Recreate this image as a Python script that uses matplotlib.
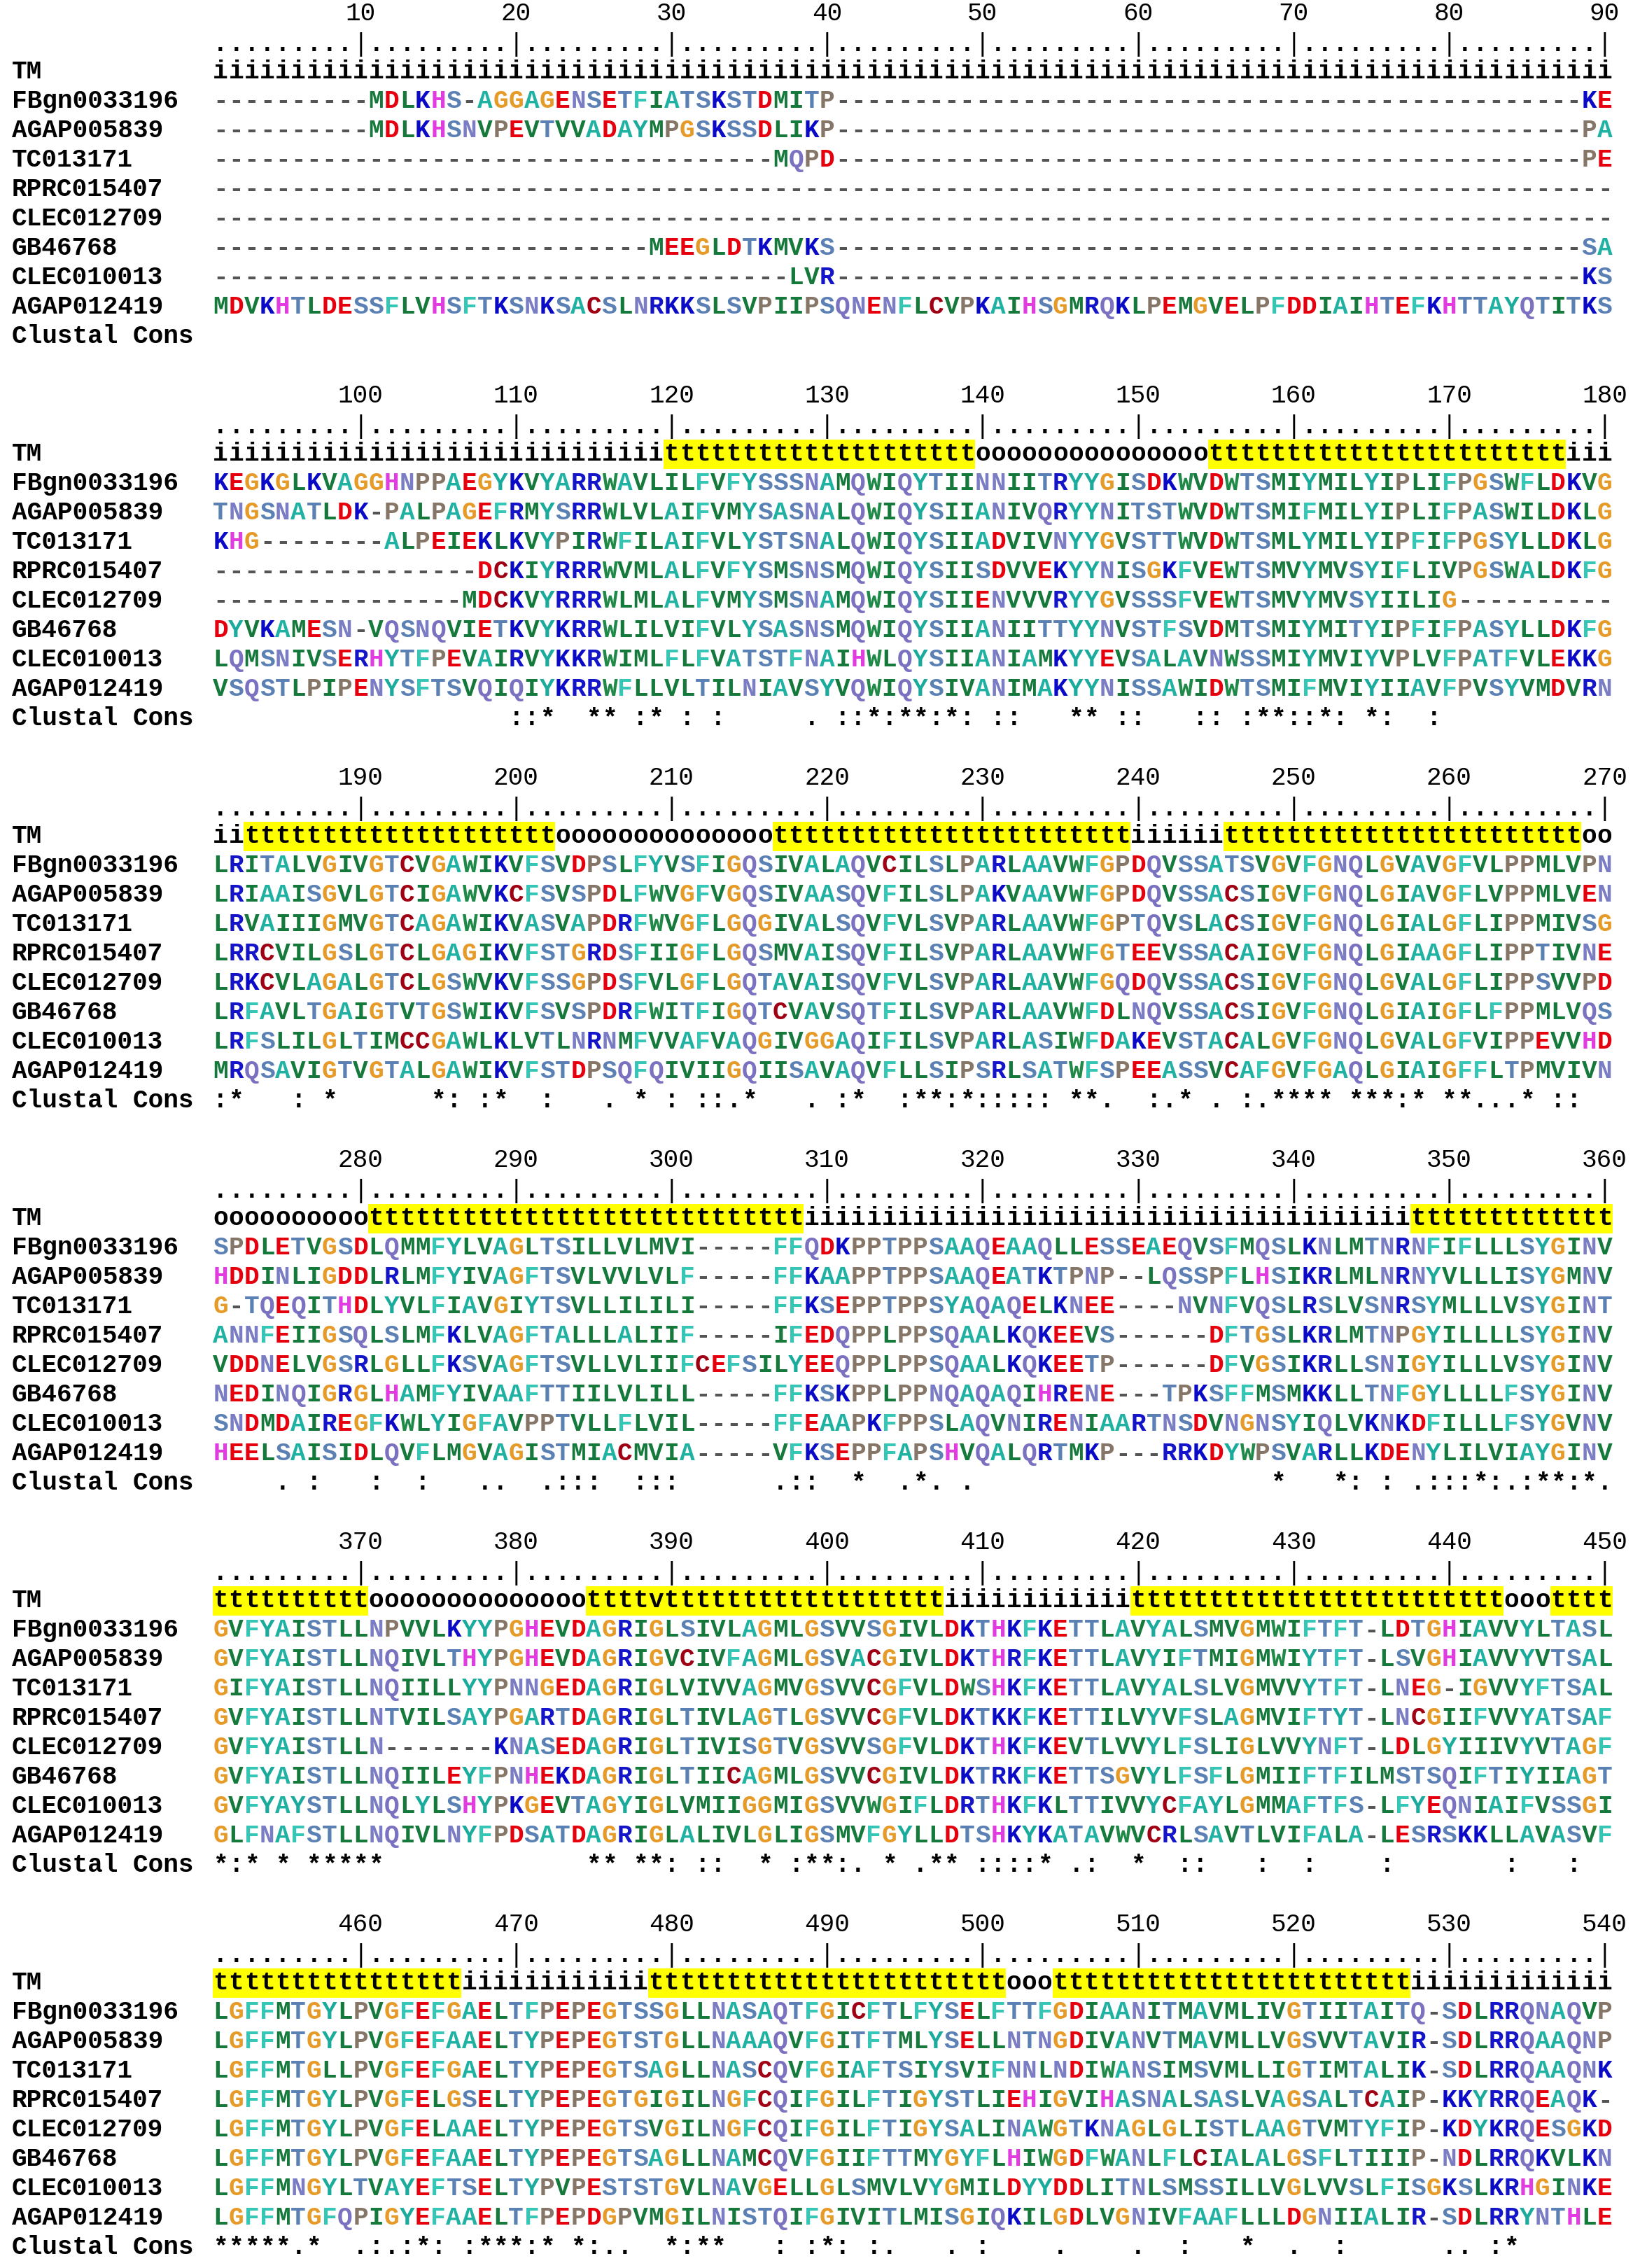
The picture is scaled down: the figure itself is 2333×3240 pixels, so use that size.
import matplotlib
matplotlib.use("Agg")
import matplotlib.pyplot as plt
from matplotlib.patches import Rectangle

# ---------------- data ----------------
BLOCK_STARTS = [1, 91, 181, 271, 361, 451]
BLOCK_LEN = 90

NAMES = ["FBgn0033196", "AGAP005839", "TC013171", "RPRC015407",
         "CLEC012709", "GB46768", "CLEC010013", "AGAP012419"]

TM = [
    "i" * 90,
    "i" * 29 + "t" * 20 + "o" * 15 + "t" * 23 + "i" * 3,
    "ii" + "t" * 20 + "o" * 14 + "t" * 23 + "i" * 6 + "t" * 23 + "oo",
    "o" * 10 + "t" * 28 + "i" * 39 + "t" * 13,
    "t" * 10 + "o" * 14 + "ttttv" + "t" * 18 + "i" * 12 + "t" * 24 + "ooo" + "tttt",
    "t" * 16 + "i" * 12 + "t" * 23 + "ooo" + "t" * 23 + "i" * 13,
]

FBGN0033196 = [
    "-" * 10 + "MDLKHS-AGGAGENSETFIATSKSTDMITP" + "-" * 48 + "KE",
    "KEGKGLKVAGGHNPPAEGYKVYARRWAVLILFVFYSSSNAMQWIQYTIINNIITRYYGISDKWVDWTSMIYMILYIPLIFPGSWFLDKVG",
    "LRITALVGIVGTCVGAWIKVFSVDPSLFYVSFIGQSIVALAQVCILSLPARLAAVWFGPDQVSSATSVGVFGNQLGVAVGFVLPPMLVPN",
    "SPDLETVGSDLQMMFYLVAGLTSILLVLMVI-----FFQDKPPTPPSAAQEAAQLLESSEAEQVSFMQSLKNLMTNRNFIFLLLSYGINV",
    "GVFYAISTLLNPVVLKYYPGHEVDAGRIGLSIVLAGMLGSVVSGIVLDKTHKFKETTLAVYALSMVGMWIFTFT-LDTGHIAVVYLTASL",
    "LGFFMTGYLPVGFEFGAELTFPEPEGTSSGLLNASAQTFGICFTLFYSELFTTFGDIAANITMAVMLIVGTIITAITQ-SDLRRQNAQVP",
]
AGAP005839 = [
    "-" * 10 + "MDLKHSNVPEVTVVADAYMPGSKSSDLIKP" + "-" * 48 + "PA",
    "TNGSNATLDK-PALPAGEFRMYSRRWLVLAIFVMYSASNALQWIQYSIIANIVQRYYNITSTWVDWTSMIFMILYIPLIFPASWILDKLG",
    "LRIAAISGVLGTCIGAWVKCFSVSPDLFWVGFVGQSIVAASQVFILSLPAKVAAVWFGPDQVSSACSIGVFGNQLGIAVGFLVPPMLVEN",
    "HDDINLIGDDLRLMFYIVAGFTSVLVVLVLF-----FFKAAPPTPPSAAQEATKTPNP--LQSSPFLHSIKRLMLNRNYVLLLISYGMNV",
    "GVFYAISTLLNQIVLTHYPGHEVDAGRIGVCIVFAGMLGSVACGIVLDKTHRFKETTLAVYIFTMIGMWIYTFT-LSVGHIAVVYVTSAL",
    "LGFFMTGYLPVGFEFAAELTYPEPEGTSTGLLNAAAQVFGITFTMLYSELLNTNGDIVANVTMAVMLLVGSVVTAVIR-SDLRRQAAQNP",
]
TC013171 = [
    "-" * 36 + "MQPD" + "-" * 48 + "PE",
    "KHG--------ALPEIEKLKVYPIRWFILAIFVLYSTSNALQWIQYSIIADVIVNYYGVSTTWVDWTSMLYMILYIPFIFPGSYLLDKLG",
    "LRVAIIIGMVGTCAGAWIKVASVAPDRFWVGFLGQGIVALSQVFVLSVPARLAAVWFGPTQVSLACSIGVFGNQLGIALGFLIPPMIVSG",
    "G-TQEQITHDLYVLFIAVGIYTSVLLILILI-----FFKSEPPTPPSYAQAQELKNEE----NVNFVQSLRSLVSNRSYMLLLVSYGINT",
    "GIFYAISTLLNQIILLYYPNNGEDAGRIGLVIVVAGMVGSVVCGFVLDWSHKFKETTLAVYALSLVGMVVYTFT-LNEG-IGVVYFTSAL",
    "LGFFMTGLLPVGFEFGAELTYPEPEGTSAGLLNASCQVFGIAFTSIYSVIFNNLNDIWANSIMSVMLLIGTIMTALIK-SDLRRQAAQNK",
]
RPRC015407 = [
    "-" * 90,
    "-----------------DCKIYRRRWVMLALFVFYSMSNSMQWIQYSIISDVVEKYYNISGKFVEWTSMVYMVSYIFLIVPGSWALDKFG",
    "LRRCVILGSLGTCLGAGIKVFSTGRDSFIIGFLGQSMVAISQVFILSVPARLAAVWFGTEEVSSACAIGVFGNQLGIAAGFLIPPTIVNE",
    "ANNFEIIGSQLSLMFKLVAGFTALLLALIIF-----IFEDQPPLPPSQAALKQKEEVS------DFTGSLKRLMTNPGYILLLLSYGINV",
    "GVFYAISTLLNTVILSAYPGARTDAGRIGLTIVLAGTLGSVVCGFVLDKTKKFKETTILVYVFSLAGMVIFTYT-LNCGIIFVVYATSAF",
    "LGFFMTGYLPVGFELGSELTYPEPEGTGIGILNGFCQIFGILFTIGYSTLIEHIGVIHASNALSASLVAGSALTCAIP-KKYRRQEAQK-",
]
CLEC012709 = [
    "-" * 90,
    "----------------MDCKVYRRRWLMLALFVMYSMSNAMQWIQYSIIENVVVRYYGVSSSFVEWTSMVYMVSYIILIG----------",
    "LRKCVLAGALGTCLGSWVKVFSSGPDSFVLGFLGQTAVAISQVFVLSVPARLAAVWFGQDQVSSACSIGVFGNQLGVALGFLIPPSVVPD",
    "VDDNELVGSRLGLLFKSVAGFTSVLLVLIIFCEFSILYEEQPPLPPSQAALKQKEETP------DFVGSIKRLLSNIGYILLLVSYGINV",
    "GVFYAISTLLN-------KNASEDAGRIGLTIVISGTVGSVVSGFVLDKTHKFKEVTLVVYLFSLIGLVVYNFT-LDLGYIIIVYVTAGF",
    "LGFFMTGYLPVGFELAAELTYPEPEGTSVGILNGFCQIFGILFTIGYSALINAWGTKNAGLGLISTLAAGTVMTYFIP-KDYKRQESGKD",
]
GB46768 = [
    "-" * 28 + "MEEGLDTKMVKS" + "-" * 48 + "SA",
    "DYVKAMESN-VQSNQVIETKVYKRRWLILVIFVLYSASNSMQWIQYSIIANIITTYYNVSTFSVDMTSMIYMITYIPFIFPASYLLDKFG",
    "LRFAVLTGAIGTVTGSWIKVFSVSPDRFWITFIGQTCVAVSQTFILSVPARLAAVWFDLNQVSSACSIGVFGNQLGIAIGFLFPPMLVQS",
    "NEDINQIGRGLHAMFYIVAAFTTIILVLILL-----FFKSKPPLPPNQAQAQIHRENE---TPKSFFMSMKKLLTNFGYLLLLFSYGINV",
    "GVFYAISTLLNQIILEYFPNHEKDAGRIGLTIICAGMLGSVVCGIVLDKTRKFKETTSGVYLFSFLGMIIFTFILMSTSQIFTIYIIAGT",
    "LGFFMTGYLPVGFEFAAELTYPEPEGTSAGLLNAMCQVFGIIFTTMYGYFLHIWGDFWANLFLCIALALGSFLTIIIP-NDLRRQKVLKN",
]
CLEC010013 = [
    "-" * 37 + "LVR" + "-" * 48 + "KS",
    "LQMSNIVSERHYTFPEVAIRVYKKRWIMLFLFVATSTFNAIHWLQYSIIANIAMKYYEVSALAVNWSSMIYMVIYVPLVFPATFVLEKKG",
    "LRFSLILGLTIMCCGAWLKLVTLNRNMFVVAFVAQGIVGGAQIFILSVPARLASIWFDAKEVSTACALGVFGNQLGVALGFVIPPEVVHD",
    "SNDMDAIREGFKWLYIGFAVPPTVLLFLVIL-----FFEAAPKFPPSLAQVNIRENIAARTNSDVNGNSYIQLVKNKDFILLLFSYGVNV",
    "GVFYAYSTLLNQLYLSHYPKGEVTAGYIGLVMIIGGMIGSVVWGIFLDRTHKFKLTTIVVYCFAYLGMMAFTFS-LFYEQNIAIFVSSGI",
    "LGFFMNGYLTVAYEFTSELTYPVPESTSTGVLNAVGELLGLSMVLVYGMILDYYDDLITNLSMSSILLVGLVVSLFISGKSLKRHGINKE",
]
AGAP012419 = [
    "MDVKHTLDESSFLVHSFTKSNKSACSLNRKKSLSVPIIPSQNENFLCVPKAIHSGMRQKLPEMGVELPFDDIAIHTEFKHTTAYQTITKS",
    "VSQSTLPIPENYSFTSVQIQIYKRRWFLLVLTILNIAVSYVQWIQYSIVANIMAKYYNISSAWIDWTSMIFMVIYIIAVFPVSYVMDVRN",
    "MRQSAVIGTVGTALGAWIKVFSTDPSQFQIVIIGQIISAVAQVFLLSIPSRLSATWFSPEEASSVCAFGVFGAQLGIAIGFFLTPMVIVN",
    "HEELSAISIDLQVFLMGVAGISTMIACMVIA-----VFKSEPPFAPSHVQALQRTMKP---RRKDYWPSVARLLKDENYLILVIAYGINV",
    "GLFNAFSTLLNQIVLNYFPDSATDAGRIGLALIVLGLIGSMVFGYLLDTSHKYKATAVWVCRLSAVTLVIFALA-LESRSKKLLAVASVF",
    "LGFFMTGFQPIGYEFAAELTFPEPDGPVMGILNISTQIFGIVITLMISGIQKILGDLVGNIVFAAFLLLDGNIIALIR-SDLRRYNTHLE",
]

CONS = [
    " " * 90,
    " " * 19 + "::*" + "  " + "**" + " " + ":*" + " " + ":" + " " + ":" + " " * 5 + "." + " "
    + "::*:**:*:" + " " + "::" + " " * 3 + "**" + " " + "::" + " " * 3 + "::" + " "
    + ":**::*:" + " " + "*:" + "  " + ":" + " " * 11,
    ":*" + " " * 3 + ":" + " " + "*" + " " * 6 + "*:" + " " + ":*" + "  " + ":" + " " * 3 + "." + " "
    + "*" + " " + ":" + " " + "::.*" + " " * 3 + "." + " " + ":*" + "  " + ":**:*:::::" + " "
    + "**." + "  " + ":.*" + " " + "." + " " + ":.****" + " " + "***:*" + " " + "**...*" + " "
    + "::" + "  ",
    " " * 4 + "." + " " + ":" + " " * 3 + ":" + "  " + ":" + " " * 3 + ".." + "  " + ".:::" + "  "
    + ":::" + " " * 6 + ".::" + "  " + "*" + "  " + ".*." + " " + "." + " " * 19 + "*" + " " * 3
    + "*:" + " " + ":" + " " + ".:::*:.:**:*.",
    "*:*" + " " + "*" + " " + "*****" + " " * 13 + "**" + " " + "**:" + " " + "::" + "  " + "*" + " "
    + ":**:." + " " + "*" + " " + ".**" + " " + "::::*" + " " + ".:" + "  " + "*" + "  " + "::"
    + " " * 3 + ":" + "  " + ":" + " " * 4 + ":" + " " * 7 + ":" + " " * 3 + ":" + "  ",
    "*****" + ".*" + "  " + ".:.:*:" + " " + ":***:*" + " " + "*:.." + "  " + "*:**" + " " * 3 + ":"
    + " " + ":*:" + " " + ":." + " " * 3 + "." + " " + ":" + " " * 4 + "." + " " * 4 + "." + "  "
    + ":" + " " * 3 + "*" + "  " + "." + "  " + ":" + " " * 6 + ".." + " " + ":*" + " " * 6,
]

SEQS = [FBGN0033196, AGAP005839, TC013171, RPRC015407,
        CLEC012709, GB46768, CLEC010013, AGAP012419]

for s in SEQS + [TM, CONS]:
    for blk in s:
        assert len(blk) == BLOCK_LEN, (len(blk), blk)

AA_COLORS = {
    "A": "#1fb2a2", "F": "#36c6b6", "Y": "#1aab9c",
    "I": "#15793b", "L": "#15793b", "V": "#15793b", "M": "#15793b", "W": "#1f8a48",
    "S": "#5a80b4", "T": "#5a80b4",
    "N": "#7a7cc4", "Q": "#7a72c0",
    "K": "#0a0ac6", "R": "#1414c8",
    "D": "#e6000e", "E": "#e6000e",
    "G": "#e69a28", "H": "#e03ce0", "P": "#857668", "C": "#a00014",
    "-": "#555555",
}

# ---------------- layout ----------------
W_PX, H_PX = 2333, 3240
COL_PX, COL0_PX = 22.22, 315.0
ROW_PX, ROW0_PX = 42.0, 103.0
BLOCK_ROWS = 13
FS = 26
MONO = "Liberation Mono"

plt.rcParams["font.family"] = [MONO, "DejaVu Sans Mono"]

fig = plt.figure(figsize=(W_PX / 100, H_PX / 100), dpi=100)
fig.patch.set_facecolor("white")
ax = fig.add_axes([0, 0, 1, 1])
ax.set_xlim(-COL0_PX / COL_PX, (W_PX - COL0_PX) / COL_PX)
ax.set_ylim((H_PX - ROW0_PX) / ROW_PX, -ROW0_PX / ROW_PX)
ax.axis("off")

X_NAME = (17 - COL0_PX) / COL_PX

for b, start in enumerate(BLOCK_STARTS):
    y0 = b * BLOCK_ROWS
    # ruler numbers and tick ruler
    for i in range(BLOCK_LEN):
        n = start + i
        if n % 10 == 0:
            ax.text(i, y0 - 1.98, str(n), ha="center", va="center",
                    fontsize=FS, family=MONO, color="black")
            ax.text(i, y0 - 0.94, "|", ha="center", va="center",
                    fontsize=FS, family=MONO, color="black")
        else:
            ax.text(i, y0 - 0.72, ".", ha="center", va="baseline",
                    fontsize=FS, family=MONO, weight="bold", color="black")
    # TM row with highlighted transmembrane segments
    tm = TM[b]
    i = 0
    while i < BLOCK_LEN:
        if tm[i] in "tv":
            j = i
            while j < BLOCK_LEN and tm[j] in "tv":
                j += 1
            ax.add_patch(Rectangle((i - 0.5, y0 - 0.5), j - i, 1.0,
                                   facecolor="#ffff00", edgecolor="none", zorder=0))
            i = j
        else:
            i += 1
    ax.text(X_NAME, y0, "TM", ha="left", va="center", fontsize=FS,
            family=MONO, weight="bold", color="black")
    for i, ch in enumerate(tm):
        ax.text(i, y0, ch, ha="center", va="center", fontsize=FS,
                family=MONO, weight="bold", color="black", zorder=2)
    # sequences
    for r, (name, seq) in enumerate(zip(NAMES, SEQS), start=1):
        y = y0 + r
        ax.text(X_NAME, y, name, ha="left", va="center", fontsize=FS,
                family=MONO, weight="bold", color="black")
        for i, ch in enumerate(seq[b]):
            ax.text(i, y, ch, ha="center", va="center", fontsize=FS,
                    family=MONO, weight="bold", color=AA_COLORS.get(ch, "black"))
    # consensus
    y = y0 + 9
    ax.text(X_NAME, y, "Clustal Cons", ha="left", va="center", fontsize=FS,
            family=MONO, weight="bold", color="black")
    for i, ch in enumerate(CONS[b]):
        if ch != " ":
            ax.text(i, y, ch, ha="center", va="center", fontsize=FS,
                    family=MONO, weight="bold", color="black")

fig.savefig("out.png", dpi=100, facecolor="white")
